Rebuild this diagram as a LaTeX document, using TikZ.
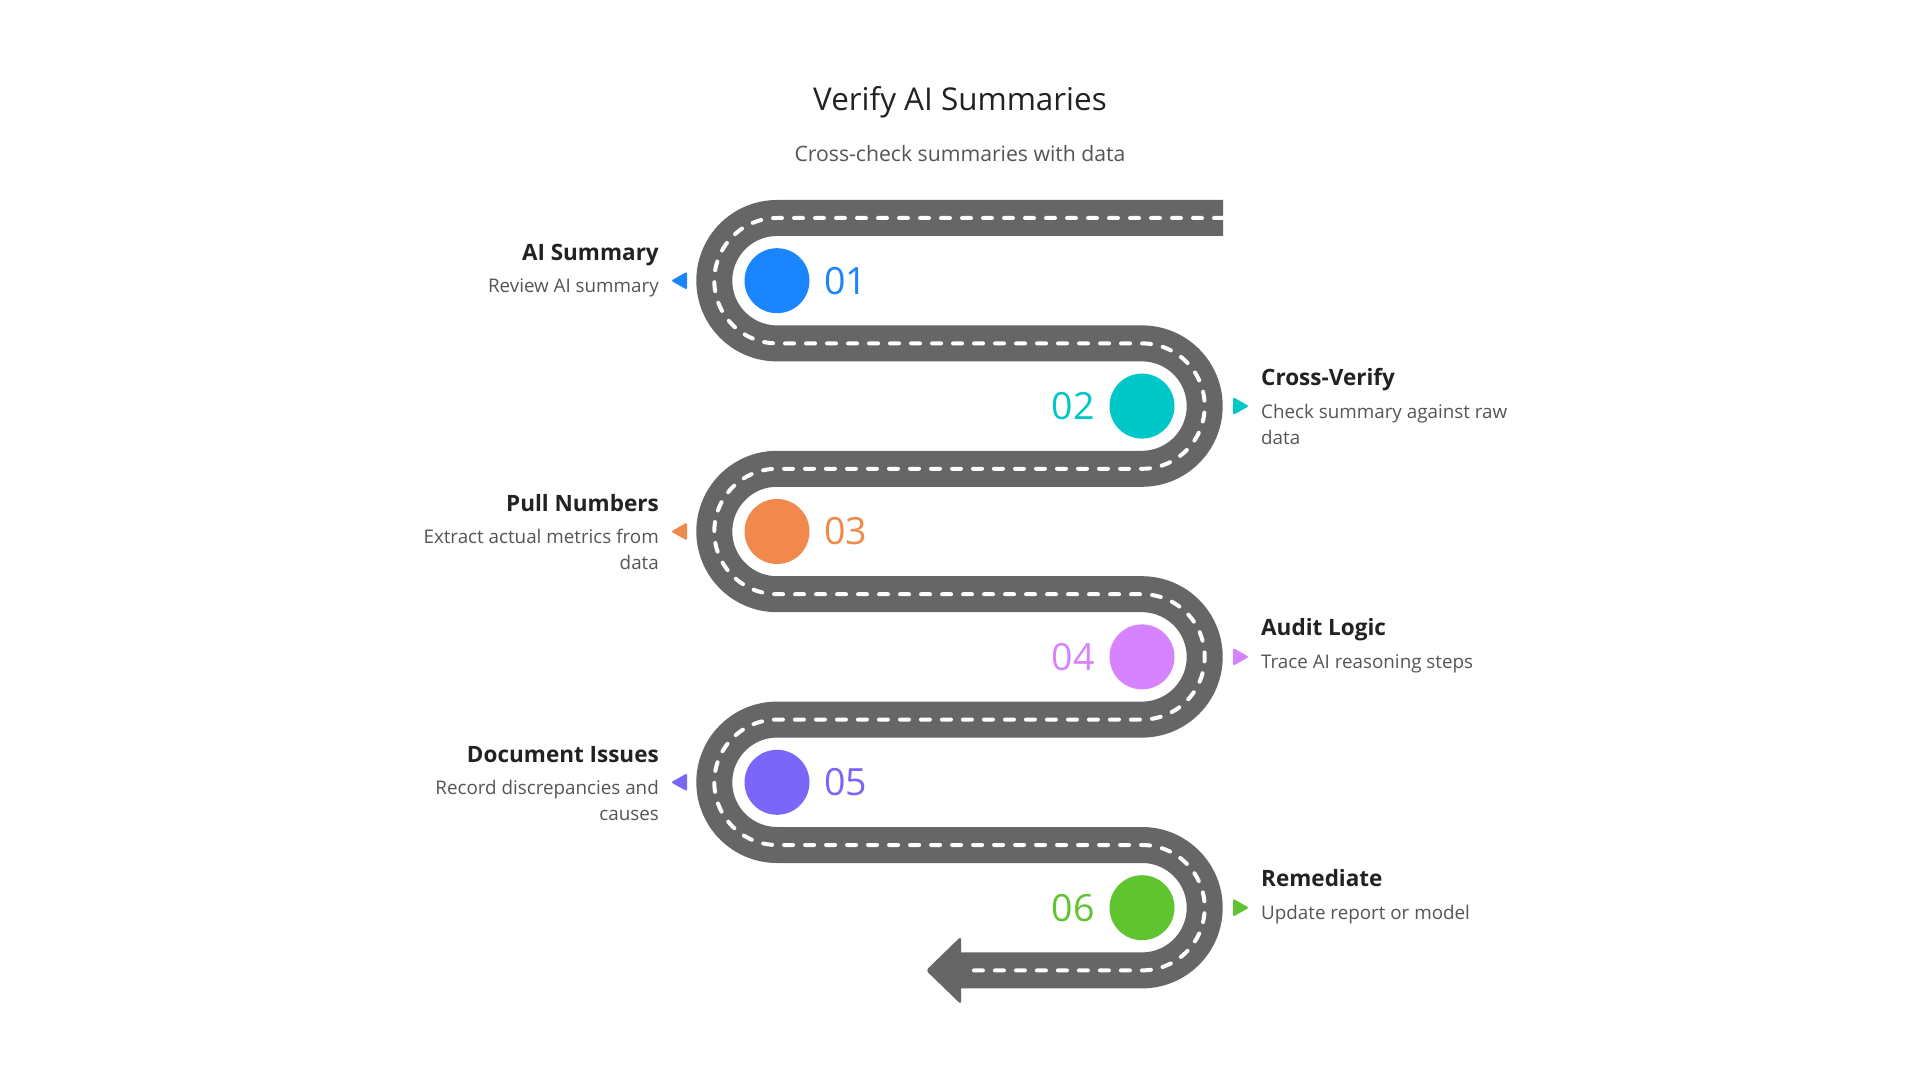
\documentclass[tikz,border=0pt]{standalone}
\usepackage{fontspec}
\setmainfont{Open Sans}
\definecolor{roadgray}{HTML}{666666}
\definecolor{titlec}{HTML}{222222}
\definecolor{descc}{HTML}{555555}
\definecolor{cA}{HTML}{1A85FF}
\definecolor{cB}{HTML}{00C8C8}
\definecolor{cC}{HTML}{F0894B}
\definecolor{cD}{HTML}{D783FF}
\definecolor{cE}{HTML}{7B66FA}
\definecolor{cF}{HTML}{60C430}
\begin{document}
\begin{tikzpicture}[x=1pt,y=1pt,
  roadline/.style={draw=roadgray,line width=36pt,line cap=butt,line join=round},
  laneline/.style={draw=white,line width=4pt,line cap=round,dash pattern=on 9pt off 12pt},
  dot/.style={circle,minimum size=65pt,inner sep=0pt},
  numlbl/.style={inner sep=0pt,font=\fontsize{37.5}{40}\selectfont},
  ttl/.style={inner sep=0pt,text=titlec,font=\fontsize{22.5}{28}\selectfont\bfseries},
  dsc/.style={inner sep=0pt,text=descc,font=\fontsize{18.8}{26}\selectfont}]
\useasboundingbox (0,0) rectangle (1920,1080);
\fill[white] (0,0) rectangle (1920,1080);
% titles
\node[inner sep=0pt,anchor=base,text=titlec,font=\fontsize{31.4}{36}\selectfont] (title) at (960,969) {Verify AI Summaries};
\node[inner sep=0pt,anchor=base,text=descc,font=\fontsize{21.2}{26}\selectfont] (subtitle) at (960,918.3) {Cross-check summaries with data};
% road
\path[roadline] (1223,862) -- (777,862)
  arc[start angle=90,end angle=270,radius=62.7] -- (1142,736.6)
  arc[start angle=90,end angle=-90,radius=62.7] -- (777,611.2)
  arc[start angle=90,end angle=270,radius=62.7] -- (1142,485.8)
  arc[start angle=90,end angle=-90,radius=62.7] -- (777,360.4)
  arc[start angle=90,end angle=270,radius=62.7] -- (1142,235)
  arc[start angle=90,end angle=-90,radius=62.7] -- (955,109.6);
\fill[roadgray,rounded corners=3pt] (961,143.6) -- (926,109.6) -- (961,75.6) -- cycle;
\path[laneline] (1223,862) -- (777,862)
  arc[start angle=90,end angle=270,radius=62.7] -- (1142,736.6)
  arc[start angle=90,end angle=-90,radius=62.7] -- (777,611.2)
  arc[start angle=90,end angle=270,radius=62.7] -- (1142,485.8)
  arc[start angle=90,end angle=-90,radius=62.7] -- (777,360.4)
  arc[start angle=90,end angle=270,radius=62.7] -- (1142,235)
  arc[start angle=90,end angle=-90,radius=62.7] -- (970,109.6);
% step 1 (left)
\node[dot,fill=cA] (c1) at (777,799.3) {};
\node[numlbl,text=cA,anchor=west] (n1) at (824,799.3) {01};
\fill[cA,rounded corners=2pt] (687,808.3) -- (671,799.3) -- (687,790.3) -- cycle;
\node[ttl,anchor=base east] (t1) at (659,819.3) {AI Summary};
\node[dsc,anchor=base east,align=right] (d1) at (659,787.3) {Review AI summary};
% step 2 (right)
\node[dot,fill=cB] (c2) at (1142,673.9) {};
\node[numlbl,text=cB,anchor=east] (n2) at (1095,673.9) {02};
\fill[cB,rounded corners=2pt] (1233,682.9) -- (1249,673.9) -- (1233,664.9) -- cycle;
\node[ttl,anchor=base west] (t2) at (1261,694.9) {Cross-Verify};
\node[dsc,anchor=base west,align=left] (d2) at (1261,635.9) {Check summary against raw\\data};
% step 3 (left)
\node[dot,fill=cC] (c3) at (777,548.5) {};
\node[numlbl,text=cC,anchor=west] (n3) at (824,548.5) {03};
\fill[cC,rounded corners=2pt] (687,557.5) -- (671,548.5) -- (687,539.5) -- cycle;
\node[ttl,anchor=base east] (t3) at (659,568.5) {Pull Numbers};
\node[dsc,anchor=base east,align=right] (d3) at (659,510.5) {Extract actual metrics from\\data};
% step 4 (right)
\node[dot,fill=cD] (c4) at (1142,423.1) {};
\node[numlbl,text=cD,anchor=east] (n4) at (1095,423.1) {04};
\fill[cD,rounded corners=2pt] (1233,432.1) -- (1249,423.1) -- (1233,414.1) -- cycle;
\node[ttl,anchor=base west] (t4) at (1261,444.1) {Audit Logic};
\node[dsc,anchor=base west,align=left] (d4) at (1261,411.1) {Trace AI reasoning steps};
% step 5 (left)
\node[dot,fill=cE] (c5) at (777,297.7) {};
\node[numlbl,text=cE,anchor=west] (n5) at (824,297.7) {05};
\fill[cE,rounded corners=2pt] (687,306.7) -- (671,297.7) -- (687,288.7) -- cycle;
\node[ttl,anchor=base east] (t5) at (659,317.7) {Document Issues};
\node[dsc,anchor=base east,align=right] (d5) at (659,259.7) {Record discrepancies and\\causes};
% step 6 (right)
\node[dot,fill=cF] (c6) at (1142,172.3) {};
\node[numlbl,text=cF,anchor=east] (n6) at (1095,172.3) {06};
\fill[cF,rounded corners=2pt] (1233,181.3) -- (1249,172.3) -- (1233,163.3) -- cycle;
\node[ttl,anchor=base west] (t6) at (1261,193.3) {Remediate};
\node[dsc,anchor=base west,align=left] (d6) at (1261,160.3) {Update report or model};
\end{tikzpicture}
\end{document}
